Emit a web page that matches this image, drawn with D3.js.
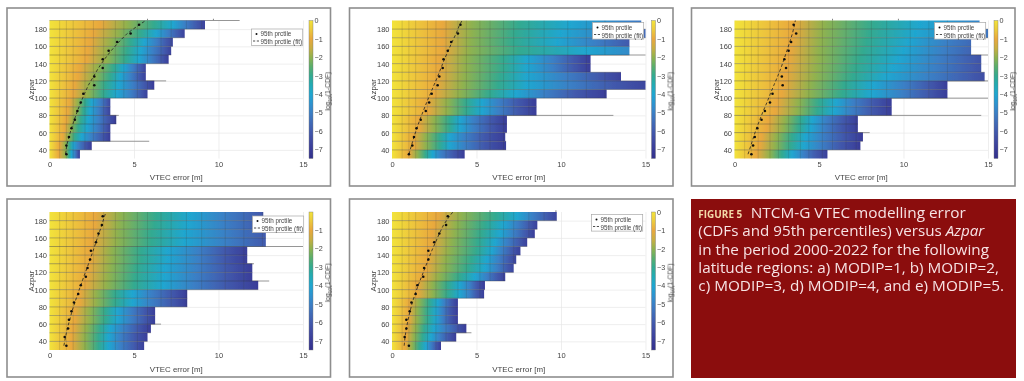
<!DOCTYPE html>
<html>
<head>
<meta charset="utf-8">
<script src="https://cdn.jsdelivr.net/npm/d3@7"></script>
<style>
  html, body { margin: 0; padding: 0; background: #fff; }
  svg { display: block; }
  .panel text { font-family: "Liberation Sans", Arial, sans-serif; }
  .caption text { font-family: "Open Sans", "Noto Sans", sans-serif; }
</style>
</head>
<body>
<svg id="chart" width="1024" height="381"></svg>
<script>
// azpar rows, bottom to top
const rowStarts = [30, 40, 50, 60, 70, 80, 90, 100, 110, 120, 130, 140, 150, 160, 170, 180];
const rowCenters = [35, 45, 55, 65, 75, 85, 95, 105, 115, 125, 135, 145, 155, 165, 175, 185];
const fitAzpar = [35, 45, 55, 65, 75, 85, 95, 105, 115, 125, 135, 145, 155, 165, 175, 185, 190];

const xTicks = [0, 5, 10, 15];
const yTicks = [40, 60, 80, 100, 120, 140, 160, 180];
const colorTicks = [0, -1, -2, -3, -4, -5, -6, -7];
// darker vertical bin edges seen through the heatmap
const binEdges = [0.6, 1.0, 1.4, 2.1, 2.6, 3.2, 3.9, 4.4, 5.2, 5.8, 6.6, 7.2, 8.1, 9.0, 10.4, 11.5, 12.6];
// stray marks just above the plot
const topMarks = [5.8, 9.7];

// log10(1-CDF) colour bar
const cmapValues = [0, -0.5, -1, -1.5, -2, -2.5, -3, -3.5, -4, -4.5, -5, -5.5, -6, -6.5, -7, -7.5];
const cmapColors = ["#f2e33a", "#ecca3c", "#e9a83e", "#c9ae42", "#8fb24f", "#5aae6c", "#33aa90", "#22abb4",
                    "#1fa6d0", "#2c94d0", "#3a80c6", "#416cb8", "#425aad", "#3f4aa2", "#393c98", "#32308c"];

// where each row reaches log10(1-CDF) = -1, -2 ... -7, per panel
const levels1 = [
  [0.55, 0.95, 1.15, 1.3, 1.5, 1.65, 1.8], [0.6, 0.95, 1.2, 1.4, 1.7, 2.1, 2.5],
  [0.8, 1.15, 1.5, 1.9, 2.5, 3.1, 3.6], [0.9, 1.3, 1.7, 2.2, 2.8, 3.3, 3.7],
  [1.0, 1.45, 1.85, 2.3, 2.9, 3.4, 3.95], [1.1, 1.6, 2.0, 2.4, 2.9, 3.3, 3.7],
  [1.2, 1.7, 2.1, 2.5, 3.0, 3.4, 3.7], [1.4, 2.3, 3.2, 4.0, 4.8, 5.4, 5.9],
  [1.5, 2.4, 3.3, 4.1, 4.9, 5.6, 6.2], [1.7, 2.7, 3.6, 4.2, 4.8, 5.3, 5.8],
  [1.8, 2.9, 3.8, 4.4, 4.9, 5.4, 5.8], [2.2, 3.4, 4.5, 5.3, 6.0, 6.6, 7.1],
  [2.3, 3.5, 4.6, 5.4, 6.1, 6.8, 7.3], [2.4, 3.7, 4.8, 5.6, 6.3, 6.9, 7.5],
  [2.6, 4.1, 5.4, 6.3, 7.0, 7.6, 8.1], [3.0, 4.6, 6.2, 7.3, 8.0, 8.7, 9.3]
];
const levels2 = [
  [1.0, 1.5, 2.0, 2.4, 2.9, 3.6, 4.3], [1.3, 2.0, 2.8, 3.4, 4.3, 5.4, 6.7],
  [1.3, 2.0, 2.8, 3.4, 4.3, 5.4, 6.7], [1.6, 2.5, 3.4, 4.0, 4.8, 5.8, 6.8],
  [1.6, 2.5, 3.4, 4.0, 4.8, 5.8, 6.8], [2.1, 3.3, 4.4, 5.3, 6.3, 7.4, 8.6],
  [2.1, 3.3, 4.4, 5.3, 6.3, 7.4, 8.6], [2.5, 4.0, 5.8, 7.3, 9.0, 10.8, 12.8],
  [2.6, 4.2, 6.3, 8.0, 10.5, 13.0, 16.0], [2.7, 4.3, 6.4, 8.0, 10.2, 12.2, 13.8],
  [2.8, 4.4, 6.6, 8.0, 9.5, 10.7, 11.8], [2.8, 4.4, 6.6, 8.0, 9.5, 10.7, 11.8],
  [3.0, 4.6, 7.5, 11.5, 15.0, 18.0, 20.0], [3.0, 4.6, 7.2, 9.8, 12.0, 14.0, 16.0],
  [3.0, 4.7, 7.3, 10.0, 13.0, 16.0, 19.0], [3.0, 4.7, 7.5, 10.5, 14.0, 17.0, 20.0]
];
const levels3 = [
  [1.3, 2.1, 2.8, 3.4, 4.1, 4.8, 5.6], [1.5, 2.4, 3.3, 4.1, 5.1, 6.2, 7.4],
  [1.6, 2.5, 3.4, 4.2, 5.2, 6.4, 7.6], [1.9, 2.9, 3.8, 4.5, 5.3, 6.3, 7.4],
  [2.0, 3.0, 3.9, 4.6, 5.4, 6.4, 7.4], [2.4, 3.7, 4.9, 5.9, 6.9, 8.1, 9.4],
  [2.5, 3.8, 5.0, 6.0, 7.0, 8.2, 9.4], [2.8, 4.4, 6.4, 8.1, 9.9, 11.4, 12.7],
  [2.9, 4.5, 6.5, 8.2, 10.0, 11.5, 12.7], [3.0, 4.8, 7.0, 9.0, 11.5, 14.0, 16.0],
  [3.1, 4.9, 7.2, 9.4, 11.8, 14.1, 16.0], [3.2, 5.0, 7.4, 9.7, 12.0, 14.2, 16.0],
  [3.3, 5.0, 7.6, 10.0, 12.3, 14.6, 17.0], [3.4, 5.1, 7.8, 10.3, 12.5, 15.0, 17.0],
  [3.5, 5.2, 8.0, 10.7, 14.0, 17.0, 20.0], [3.5, 5.3, 8.2, 11.0, 15.0, 18.0, 20.0]
];
const levels4 = [
  [1.3, 2.1, 2.9, 3.5, 4.2, 5.0, 5.7], [1.3, 2.1, 2.9, 3.5, 4.2, 5.0, 5.9],
  [1.4, 2.2, 3.0, 3.6, 4.4, 5.2, 6.0], [1.5, 2.4, 3.3, 4.0, 4.8, 5.6, 6.3],
  [1.5, 2.4, 3.3, 4.0, 4.8, 5.6, 6.3], [1.8, 2.8, 3.9, 4.9, 6.0, 7.2, 8.2],
  [1.8, 2.8, 3.9, 4.9, 6.0, 7.2, 8.2], [2.1, 3.4, 5.0, 6.7, 8.5, 10.4, 12.4],
  [2.2, 3.5, 5.1, 6.8, 8.6, 10.4, 12.1], [2.3, 3.6, 5.2, 6.8, 8.7, 10.4, 12.1],
  [2.4, 3.7, 5.4, 7.0, 8.8, 10.3, 11.8], [2.4, 3.7, 5.4, 7.0, 8.8, 10.3, 11.8],
  [2.5, 4.0, 6.0, 8.0, 10.4, 12.8, 15.0], [2.6, 4.0, 6.0, 8.0, 10.4, 12.8, 15.0],
  [2.7, 4.1, 6.2, 8.2, 10.3, 12.5, 15.0], [2.7, 4.2, 6.3, 8.3, 10.3, 12.5, 15.0]
];
const levels5 = [
  [0.8, 1.2, 1.6, 2.0, 2.3, 2.6, 2.9], [0.85, 1.3, 1.8, 2.3, 2.8, 3.3, 3.8],
  [0.9, 1.4, 1.9, 2.5, 3.1, 3.8, 4.4], [1.0, 1.5, 2.1, 2.6, 3.0, 3.4, 3.9],
  [1.0, 1.5, 2.1, 2.6, 3.0, 3.4, 3.9], [1.05, 1.6, 2.2, 2.7, 3.1, 3.5, 3.9],
  [1.5, 2.4, 3.3, 4.0, 4.6, 5.0, 5.5], [1.5, 2.4, 3.3, 4.0, 4.6, 5.0, 5.5],
  [1.8, 2.8, 4.0, 4.9, 5.6, 6.2, 6.8], [2.0, 3.1, 4.5, 5.5, 6.2, 6.8, 7.4],
  [2.1, 3.2, 4.7, 5.6, 6.3, 6.9, 7.5], [2.2, 3.4, 5.0, 5.9, 6.5, 7.1, 7.7],
  [2.3, 3.5, 5.1, 6.1, 6.8, 7.5, 8.1], [2.4, 3.7, 5.3, 6.4, 7.2, 7.9, 8.5],
  [2.5, 3.8, 5.5, 6.6, 7.4, 8.1, 8.7], [2.7, 4.1, 6.1, 7.4, 8.3, 9.2, 10.0]
];

// largest error per row
const extent1 = [1.8, 2.5, 3.6, 3.6, 3.95, 3.6, 3.6, 5.8, 6.2, 5.7, 5.7, 7.05, 7.2, 7.3, 8.0, 9.2];
const extent2 = [4.3, 6.75, 6.7, 6.8, 6.8, 8.55, 8.55, 12.7, 15, 13.55, 11.75, 11.75, 14.05, 14.05, 15, 14.75];
const extent3 = [5.5, 7.45, 7.6, 7.3, 7.3, 9.3, 9.3, 12.6, 12.6, 14.8, 14.6, 14.6, 14, 14, 15, 14.5];
const extent4 = [5.6, 5.8, 6.0, 6.25, 6.25, 8.15, 8.15, 12.35, 12, 12, 11.7, 11.7, 12.8, 12.8, 12.65, 12.65];
const extent5 = [2.9, 3.8, 4.4, 3.9, 3.9, 3.9, 5.45, 5.5, 6.7, 7.2, 7.35, 7.6, 8.0, 8.45, 8.6, 9.75];

// 95th percentile markers
const p95_1 = [1.0, 1.0, 1.15, 1.3, 1.5, 1.65, 1.85, 2.0, 2.65, 2.65, 3.15, 3.15, 3.5, 4.0, 4.8, 5.3];
const p95_2 = [1.0, 1.2, 1.3, 1.45, 1.7, 2.0, 2.2, 2.35, 2.7, 2.8, 3.0, 3.05, 3.3, 3.5, 3.9, 4.05];
const p95_3 = [1.0, 1.1, 1.2, 1.35, 1.6, 1.8, 2.1, 2.25, 2.85, 2.8, 3.05, 2.95, 3.2, 3.35, 3.65, 3.5];
const p95_4 = [1.0, 0.9, 1.1, 1.15, 1.3, 1.45, 1.7, 1.85, 2.15, 2.25, 2.4, 2.45, 2.75, 2.9, 3.1, 3.15];
const p95_5 = [1.0, 0.75, 0.85, 0.85, 1.05, 1.15, 1.4, 1.5, 1.85, 1.9, 2.15, 2.15, 2.5, 2.8, 3.2, 3.3];

// 95th percentile fit
const fit1 = [0.95, 1.02, 1.15, 1.3, 1.47, 1.65, 1.85, 2.07, 2.3, 2.6, 2.9, 3.25, 3.65, 4.1, 4.6, 5.3, 5.7];
const fit2 = [1.0, 1.15, 1.3, 1.47, 1.65, 1.85, 2.05, 2.27, 2.48, 2.7, 2.9, 3.1, 3.33, 3.55, 3.8, 4.0, 4.15];
const fit3 = [0.8, 0.97, 1.13, 1.3, 1.5, 1.7, 1.92, 2.12, 2.33, 2.55, 2.75, 2.93, 3.1, 3.27, 3.43, 3.55, 3.6];
const fit4 = [0.85, 0.95, 1.05, 1.2, 1.33, 1.5, 1.67, 1.85, 2.03, 2.22, 2.4, 2.58, 2.75, 2.92, 3.1, 3.25, 3.35];
const fit5 = [0.72, 0.77, 0.85, 0.95, 1.07, 1.2, 1.37, 1.55, 1.75, 1.95, 2.15, 2.35, 2.58, 2.8, 3.05, 3.4, 3.6];

// thin outlier rows: [azpar, error]
const spurs1 = [[190, 11.25], [120, 6.9], [80, 4.1], [50, 5.9]];
const spurs2 = [[150, 15], [80, 13.1]];
const spurs3 = [[150, 15], [120, 15], [100, 15], [80, 14.6], [60, 8.0]];
const spurs4 = [[150, 15], [130, 12.1], [110, 13.0], [60, 6.6]];
const spurs5 = [[50, 4.7]];

const captionHead = "NTCM-G VTEC modelling error";
const captionLines = [
  ["(CDFs and 95th percentiles) versus ", "Azpar"],
  ["in the period 2000-2022 for the following"],
  ["latitude regions: a) MODIP=1, b) MODIP=2,"],
  ["c) MODIP=3, d) MODIP=4, and e) MODIP=5."]
];
const captionWidths = [286, 290.7, 300.7, 305.7];

const panels = [
  {id: 1, levels: levels1, extent: extent1, p95: p95_1, fit: fit1, spurs: spurs1, marks: topMarks, frame: [7, 8], plot: [49.5, 20.5], legend: [251.5, 29]},
  {id: 2, levels: levels2, extent: extent2, p95: p95_2, fit: fit2, spurs: spurs2, marks: [], frame: [349.5, 8], plot: [392, 20.5], legend: [592.5, 22.5]},
  {id: 3, levels: levels3, extent: extent3, p95: p95_3, fit: fit3, spurs: spurs3, marks: topMarks, frame: [691.5, 8], plot: [734.5, 20.5], legend: [934.5, 22.5]},
  {id: 4, levels: levels4, extent: extent4, p95: p95_4, fit: fit4, spurs: spurs4, marks: [], frame: [7, 199], plot: [49.5, 212], legend: [252.5, 216], noZero: true},
  {id: 5, levels: levels5, extent: extent5, p95: p95_5, fit: fit5, spurs: spurs5, marks: topMarks, frame: [349.5, 199], plot: [392, 212], legend: [591.5, 214.5]}
];

const svg = d3.select("#chart");
const defs = svg.append("defs");
defs.append("filter").attr("id", "soft")
    .attr("x", -0.02).attr("y", -0.02).attr("width", 1.04).attr("height", 1.04)
    .append("feGaussianBlur").attr("stdDeviation", 0.5);

const plotW = 253.5, plotH = 138, frameW = 323.5, frameH = 178;
const textColor = "#444";

const color = d3.scaleLinear().domain(cmapValues).range(cmapColors);
const x = d3.scaleLinear().domain([0, 15]).range([0, plotW]);
const y = d3.scaleLinear().domain([30, 190]).range([plotH, 0]);
const gradSpan = 20; // gradients run past the axis so a row can stop above -7

panels.forEach(drawPanel);
drawCaption();

function drawPanel(p) {
    const frame = svg.append("g").attr("class", "panel").attr("filter", "url(#soft)");

    frame.append("rect")
        .attr("x", p.frame[0]).attr("y", p.frame[1])
        .attr("width", frameW).attr("height", frameH)
        .attr("fill", "#fff").attr("stroke", "#8e8e8e").attr("stroke-width", 1.6);

    const g = frame.append("g").attr("transform", `translate(${p.plot[0]},${p.plot[1]})`);

    // light grid + axes
    const xAxis = g.append("g").attr("transform", `translate(0,${plotH})`)
        .call(d3.axisBottom(x).tickValues(xTicks).tickSize(-plotH).tickPadding(3));
    const yAxis = g.append("g")
        .call(d3.axisLeft(y).tickValues(yTicks).tickSize(-plotW).tickPadding(2.5));
    [xAxis, yAxis].forEach(function(a) {
        a.select(".domain").remove();
        a.selectAll("line").attr("stroke", "#e6e6e6").attr("stroke-width", 0.7);
        a.selectAll("text").attr("fill", textColor).attr("font-size", 7.5);
    });

    g.selectAll(".mark").data(p.marks).enter().append("line")
        .attr("x1", d => x(d)).attr("x2", d => x(d))
        .attr("y1", y(190)).attr("y2", y(192))
        .attr("stroke", "#777").attr("stroke-width", 0.9);

    // outlier rows poke out as grey lines
    g.selectAll(".spur").data(p.spurs).enter().append("line")
        .attr("x1", 0).attr("x2", d => x(d[1]))
        .attr("y1", d => y(d[0])).attr("y2", d => y(d[0]))
        .attr("stroke", "#8a8a8a").attr("stroke-width", 0.9);

    // one gradient per row, stops at the level crossings
    p.levels.forEach(function(row, i) {
        const grad = defs.append("linearGradient")
            .attr("id", `p${p.id}r${i}`)
            .attr("gradientUnits", "userSpaceOnUse")
            .attr("x1", x(0)).attr("x2", x(gradSpan)).attr("y1", 0).attr("y2", 0);
        grad.append("stop").attr("offset", 0).attr("stop-color", color(0));
        row.forEach(function(v, j) {
            grad.append("stop").attr("offset", v / gradSpan).attr("stop-color", color(-(j + 1)));
        });
    });

    g.selectAll(".cell").data(rowStarts).enter().append("rect")
        .attr("x", x(0))
        .attr("y", d => y(d + 10))
        .attr("width", (d, i) => x(p.extent[i]))
        .attr("height", d => y(d) - y(d + 10))
        .attr("fill", (d, i) => `url(#p${p.id}r${i})`);

    // bin edges, only inside each row's bar
    rowStarts.forEach(function(d, i) {
        g.selectAll(null).data(binEdges.filter(e => e < p.extent[i])).enter().append("line")
            .attr("x1", e => x(e)).attr("x2", e => x(e))
            .attr("y1", y(d)).attr("y2", y(d + 10))
            .attr("stroke", "#3a3a2a").attr("stroke-opacity", 0.18).attr("stroke-width", 0.9);
    });

    // row separators
    g.selectAll(".sep").data(rowStarts.slice(1)).enter().append("line")
        .attr("x1", 0)
        .attr("x2", (d, i) => x(Math.max(p.extent[i], p.extent[i + 1])))
        .attr("y1", d => y(d)).attr("y2", d => y(d))
        .attr("stroke", "#333").attr("stroke-opacity", 0.5).attr("stroke-width", 0.7);

    // fit + percentile dots
    const line = d3.line().x(d => x(d[0])).y(d => y(d[1]));
    g.append("path")
        .datum(p.fit.map((v, i) => [v, fitAzpar[i]]))
        .attr("d", line)
        .attr("fill", "none").attr("stroke", "#222").attr("stroke-width", 0.8)
        .attr("stroke-dasharray", "3,2.2");

    g.selectAll(".dot").data(p.p95).enter().append("circle")
        .attr("cx", d => x(d))
        .attr("cy", (d, i) => y(rowCenters[i]))
        .attr("r", 1.3).attr("fill", "#111");

    // axis titles
    g.append("text")
        .attr("x", x(7.5)).attr("y", plotH + 21.5)
        .attr("text-anchor", "middle")
        .attr("fill", textColor).attr("font-size", 7.9)
        .text("VTEC error [m]");
    g.append("text")
        .attr("transform", `translate(-16,${y(110)}) rotate(-90)`)
        .attr("text-anchor", "middle")
        .attr("fill", textColor).attr("font-size", 8)
        .text("Azpar");

    drawLegend(frame, p);
    drawColorbar(frame, p);
}

function drawLegend(frame, p) {
    const lg = frame.append("g").attr("transform", `translate(${p.legend[0]},${p.legend[1]})`);
    lg.append("rect")
        .attr("width", 51.2).attr("height", 16.6)
        .attr("fill", "#fff").attr("stroke", "#a8a8a8").attr("stroke-width", 0.7);
    lg.append("circle").attr("cx", 5).attr("cy", 5).attr("r", 1).attr("fill", "#111");
    lg.append("line").attr("x1", 1.5).attr("x2", 7.5).attr("y1", 12).attr("y2", 12)
        .attr("stroke", "#222").attr("stroke-width", 0.8).attr("stroke-dasharray", "2.2,1.6");
    lg.selectAll("text").data(["95th prctile", "95th prctile (fit)"]).enter().append("text")
        .attr("x", 9).attr("y", (d, i) => 7.2 + i * 8)
        .attr("fill", textColor).attr("font-size", 6.3)
        .text(d => d);
}

function drawColorbar(frame, p) {
    const barX = p.plot[0] + plotW + 6, barW = 4;
    const top = p.noZero ? -0.02 : 0;
    const cy = d3.scaleLinear().domain([top, -7.5]).range([0, plotH]);
    const gradId = `cbar${p.id}`;
    const grad = defs.append("linearGradient").attr("id", gradId)
        .attr("x1", 0).attr("x2", 0).attr("y1", 0).attr("y2", 1);
    grad.selectAll("stop").data(cmapValues).enter().append("stop")
        .attr("offset", d => Math.max(0, cy(d)) / plotH)
        .attr("stop-color", d => color(d));

    const cg = frame.append("g").attr("transform", `translate(${barX},${p.plot[1]})`);
    cg.append("rect").attr("width", barW).attr("height", plotH)
        .attr("fill", `url(#${gradId})`)
        .attr("stroke", "#777").attr("stroke-width", 0.4);

    const ticks = p.noZero ? colorTicks.slice(1) : colorTicks;
    const axis = cg.append("g").attr("transform", `translate(${barW},0)`)
        .call(d3.axisRight(cy).tickValues(ticks).tickSize(0).tickPadding(1.5).tickFormat(d3.format("d")));
    axis.select(".domain").remove();
    axis.selectAll("text").attr("fill", textColor).attr("font-size", 7.2);

    const label = cg.append("text")
        .attr("transform", `translate(${barW + 17},${cy(-3.85)}) rotate(-90)`)
        .attr("text-anchor", "middle")
        .attr("fill", textColor).attr("font-size", 6.8);
    label.append("tspan").text("log");
    label.append("tspan").attr("dy", 1.5).attr("font-size", 4.8).text("10");
    label.append("tspan").attr("dy", -1.5).text("(1-CDF)");
}

function drawCaption() {
    const cap = svg.append("g").attr("class", "caption").attr("filter", "url(#soft)");
    cap.append("rect")
        .attr("x", 691).attr("y", 199)
        .attr("width", 325).attr("height", 179)
        .attr("fill", "#8b0a11");

    cap.append("text")
        .attr("x", 698.3).attr("y", 218.3)
        .attr("font-weight", 700).attr("font-size", 11)
        .attr("fill", "#f3d9a6")
        .attr("textLength", 44).attr("lengthAdjust", "spacingAndGlyphs")
        .text("FIGURE 5");
    cap.append("text")
        .attr("x", 750.7).attr("y", 218.3)
        .attr("font-size", 14)
        .attr("fill", "#f7e4e2")
        .attr("textLength", 215).attr("lengthAdjust", "spacingAndGlyphs")
        .text(captionHead);

    const baseY = d3.scaleLinear().domain([0, 1]).range([236.3, 254.6]);
    captionLines.forEach(function(parts, i) {
        const t = cap.append("text")
            .attr("x", 698.3).attr("y", baseY(i))
            .attr("font-size", 14)
            .attr("fill", "#f7e4e2")
            .attr("textLength", captionWidths[i]).attr("lengthAdjust", "spacingAndGlyphs");
        parts.forEach(function(s, j) {
            t.append("tspan").attr("font-style", j === 1 ? "italic" : "normal").text(s);
        });
    });
}
</script>
</body>
</html>
